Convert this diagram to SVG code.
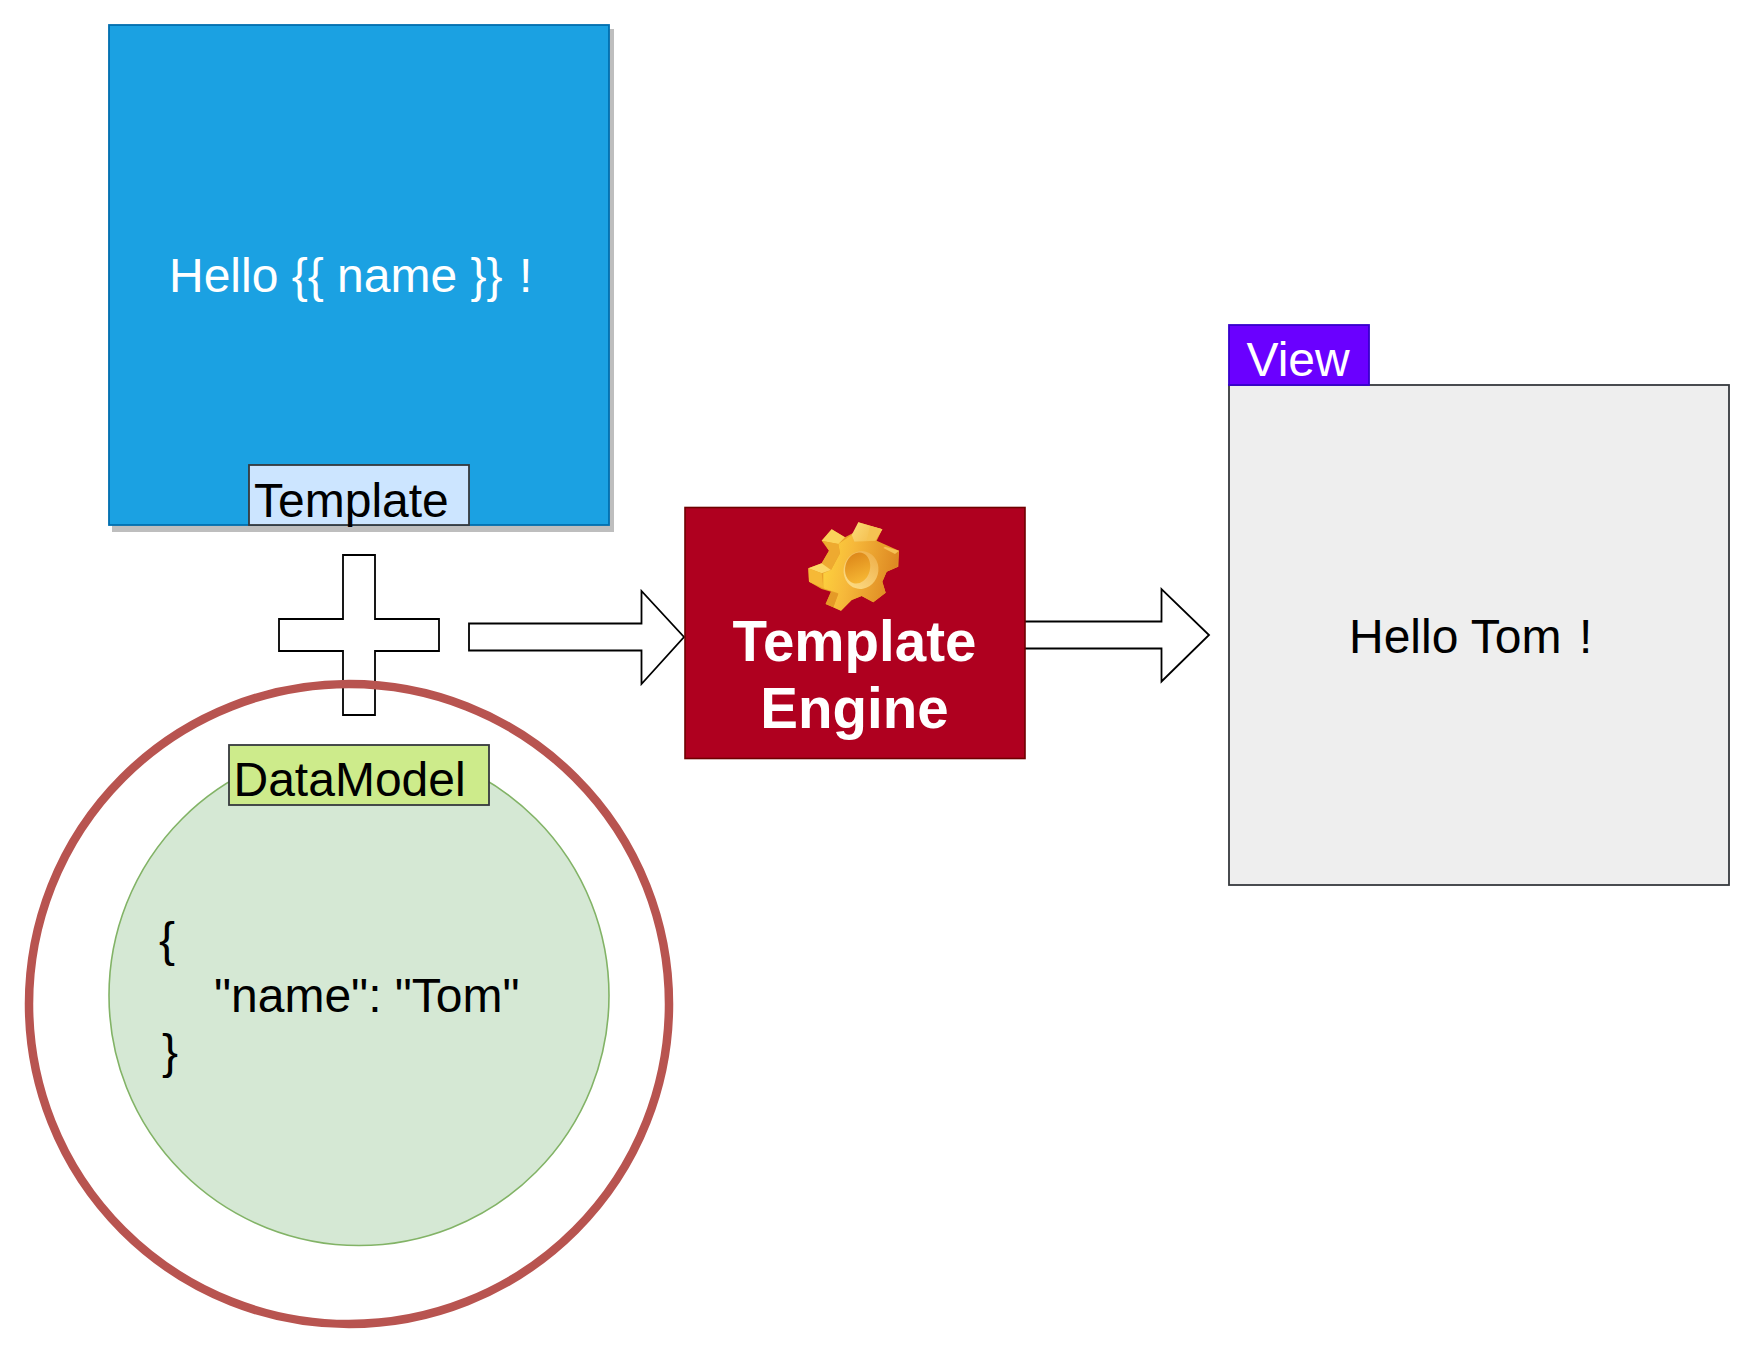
<svg xmlns="http://www.w3.org/2000/svg" width="1754" height="1352" viewBox="0 0 1754 1352">
<style>
text{font-family:"Liberation Sans",Arial,sans-serif;font-size:48px;fill:#000}
.w{fill:#fff}
.b{font-weight:bold;font-size:56.5px;fill:#fff;text-anchor:middle}
.block{fill:#fff;stroke:#000;stroke-width:1.8}
.lab{stroke:#36393d;stroke-width:1.8}
</style>
<defs>
<linearGradient id="gearBody" x1="0" y1="0.1" x2="1" y2="0.3"><stop offset="0" stop-color="#fed53e"/><stop offset="0.4" stop-color="#f6b83a"/><stop offset="1" stop-color="#dd8822"/></linearGradient>
<linearGradient id="gearTop" x1="0" y1="0" x2="1" y2="0.4"><stop offset="0" stop-color="#fcdc78"/><stop offset="1" stop-color="#f3ba4a"/></linearGradient>
<linearGradient id="gearHole" x1="0.2" y1="0" x2="0.8" y2="1"><stop offset="0" stop-color="#dc8518"/><stop offset="1" stop-color="#f8bb36"/></linearGradient>
<linearGradient id="gearRing" x1="0.8" y1="0" x2="0.4" y2="1"><stop offset="0" stop-color="#efb04a"/><stop offset="1" stop-color="#fbd981"/></linearGradient>
</defs>
<rect width="1754" height="1352" fill="#fff"/>
<g id="connectors">
<polygon class="block" points="469,623.5 641.5,623.5 641.5,591 684,637 641.5,684 641.5,650.5 469,650.5"/>
<polygon class="block" points="1020,621.5 1161.5,621.5 1161.5,589 1209,635 1161.5,681.5 1161.5,648.5 1020,648.5"/>
</g>
<g id="template">
<rect x="112" y="29" width="502" height="503" fill="#bebebe"/>
<rect x="109" y="25" width="500" height="500" fill="#1ba1e2" stroke="#006eaf" stroke-width="1.8"/>
<text class="w" x="169" y="292">Hello {{ name }} <tspan dx="3">!</tspan></text>
</g>
<g id="template-label">
<rect class="lab" x="249" y="465" width="220" height="60" fill="#cce5ff"/>
<text x="254" y="516.5">Template</text>
</g>
<g id="plus">
<polygon class="block" points="343,555 375,555 375,619 439,619 439,651 375,651 375,715 343,715 343,651 279,651 279,619 343,619"/>
</g>
<g id="data-model">
<circle cx="359" cy="995.5" r="250" fill="#d5e8d4" stroke="#82b366" stroke-width="1.6"/>
<text x="159" y="956">{</text>
<text x="214" y="1012">"name": "Tom"</text>
<text x="162" y="1068">}</text>
</g>
<g id="data-model-label">
<rect class="lab" x="229" y="745" width="260" height="60" fill="#cdeb8b"/>
<text x="233.5" y="795.5">DataModel</text>
</g>
<g id="outer-ring">
<circle cx="349" cy="1004" r="320" fill="none" stroke="#b85450" stroke-width="8.5"/>
</g>
<g id="template-engine">
<rect x="685" y="507.5" width="340" height="251" fill="#af001f" stroke="#6f0000" stroke-width="1.6"/>
<g transform="translate(805 520) scale(.3333)">
<polygon fill="#e8a02a" points="160,7 232,28 215,62 282,92 280,140 245,155 232,185 242,218 205,247 170,228 140,240 108,272 62,252 78,215 50,207 12,185 10,145 50,130 72,92 50,62 80,28 120,52 150,36"/>
<polygon fill="url(#gearBody)" points="100,72 140,45 148,65 205,60 235,82 280,97 278,140 245,155 232,185 242,218 205,247 170,228 140,240 108,272 85,262 100,220 55,205 55,160 78,150 105,100"/>
<polygon fill="url(#gearTop)" points="160,7 232,28 212,62 148,65 140,45"/>
<polygon fill="#f5c252" points="195,18 232,28 210,62 185,62"/>
<polygon fill="#fbd25a" points="80,28 120,52 100,72 50,62"/>
<polygon fill="#eeaa30" points="55,64 100,72 105,100 78,150 50,130 72,92"/>
<polygon fill="#fcd767" points="10,145 50,130 78,150 50,160"/>
<polygon fill="#f6b936" points="10,145 50,160 55,205 12,185"/>
<polygon fill="#e59a27" points="62,252 78,215 100,222 85,262"/>
<polygon fill="#f6c054" points="240,80 282,92 270,102 235,84"/>
<ellipse cx="168" cy="150" rx="52" ry="57" transform="rotate(15 168 150)" fill="url(#gearRing)"/>
<ellipse cx="158" cy="144" rx="37" ry="47" transform="rotate(15 158 144)" fill="url(#gearHole)"/>
</g>
<text class="b" x="854.5" y="660.5">Template</text>
<text class="b" x="854.5" y="728">Engine</text>
</g>
<g id="view">
<rect x="1229" y="385" width="500" height="500" fill="#eeeeee" stroke="#36393d" stroke-width="1.8"/>
<text x="1349" y="652.5">Hello Tom <tspan dx="4">!</tspan></text>
</g>
<g id="view-label">
<rect x="1229" y="325" width="140" height="60" fill="#6a00ff" stroke="#3700cc" stroke-width="1.8"/>
<text class="w" x="1246.5" y="375.5">View</text>
</g>
</svg>
